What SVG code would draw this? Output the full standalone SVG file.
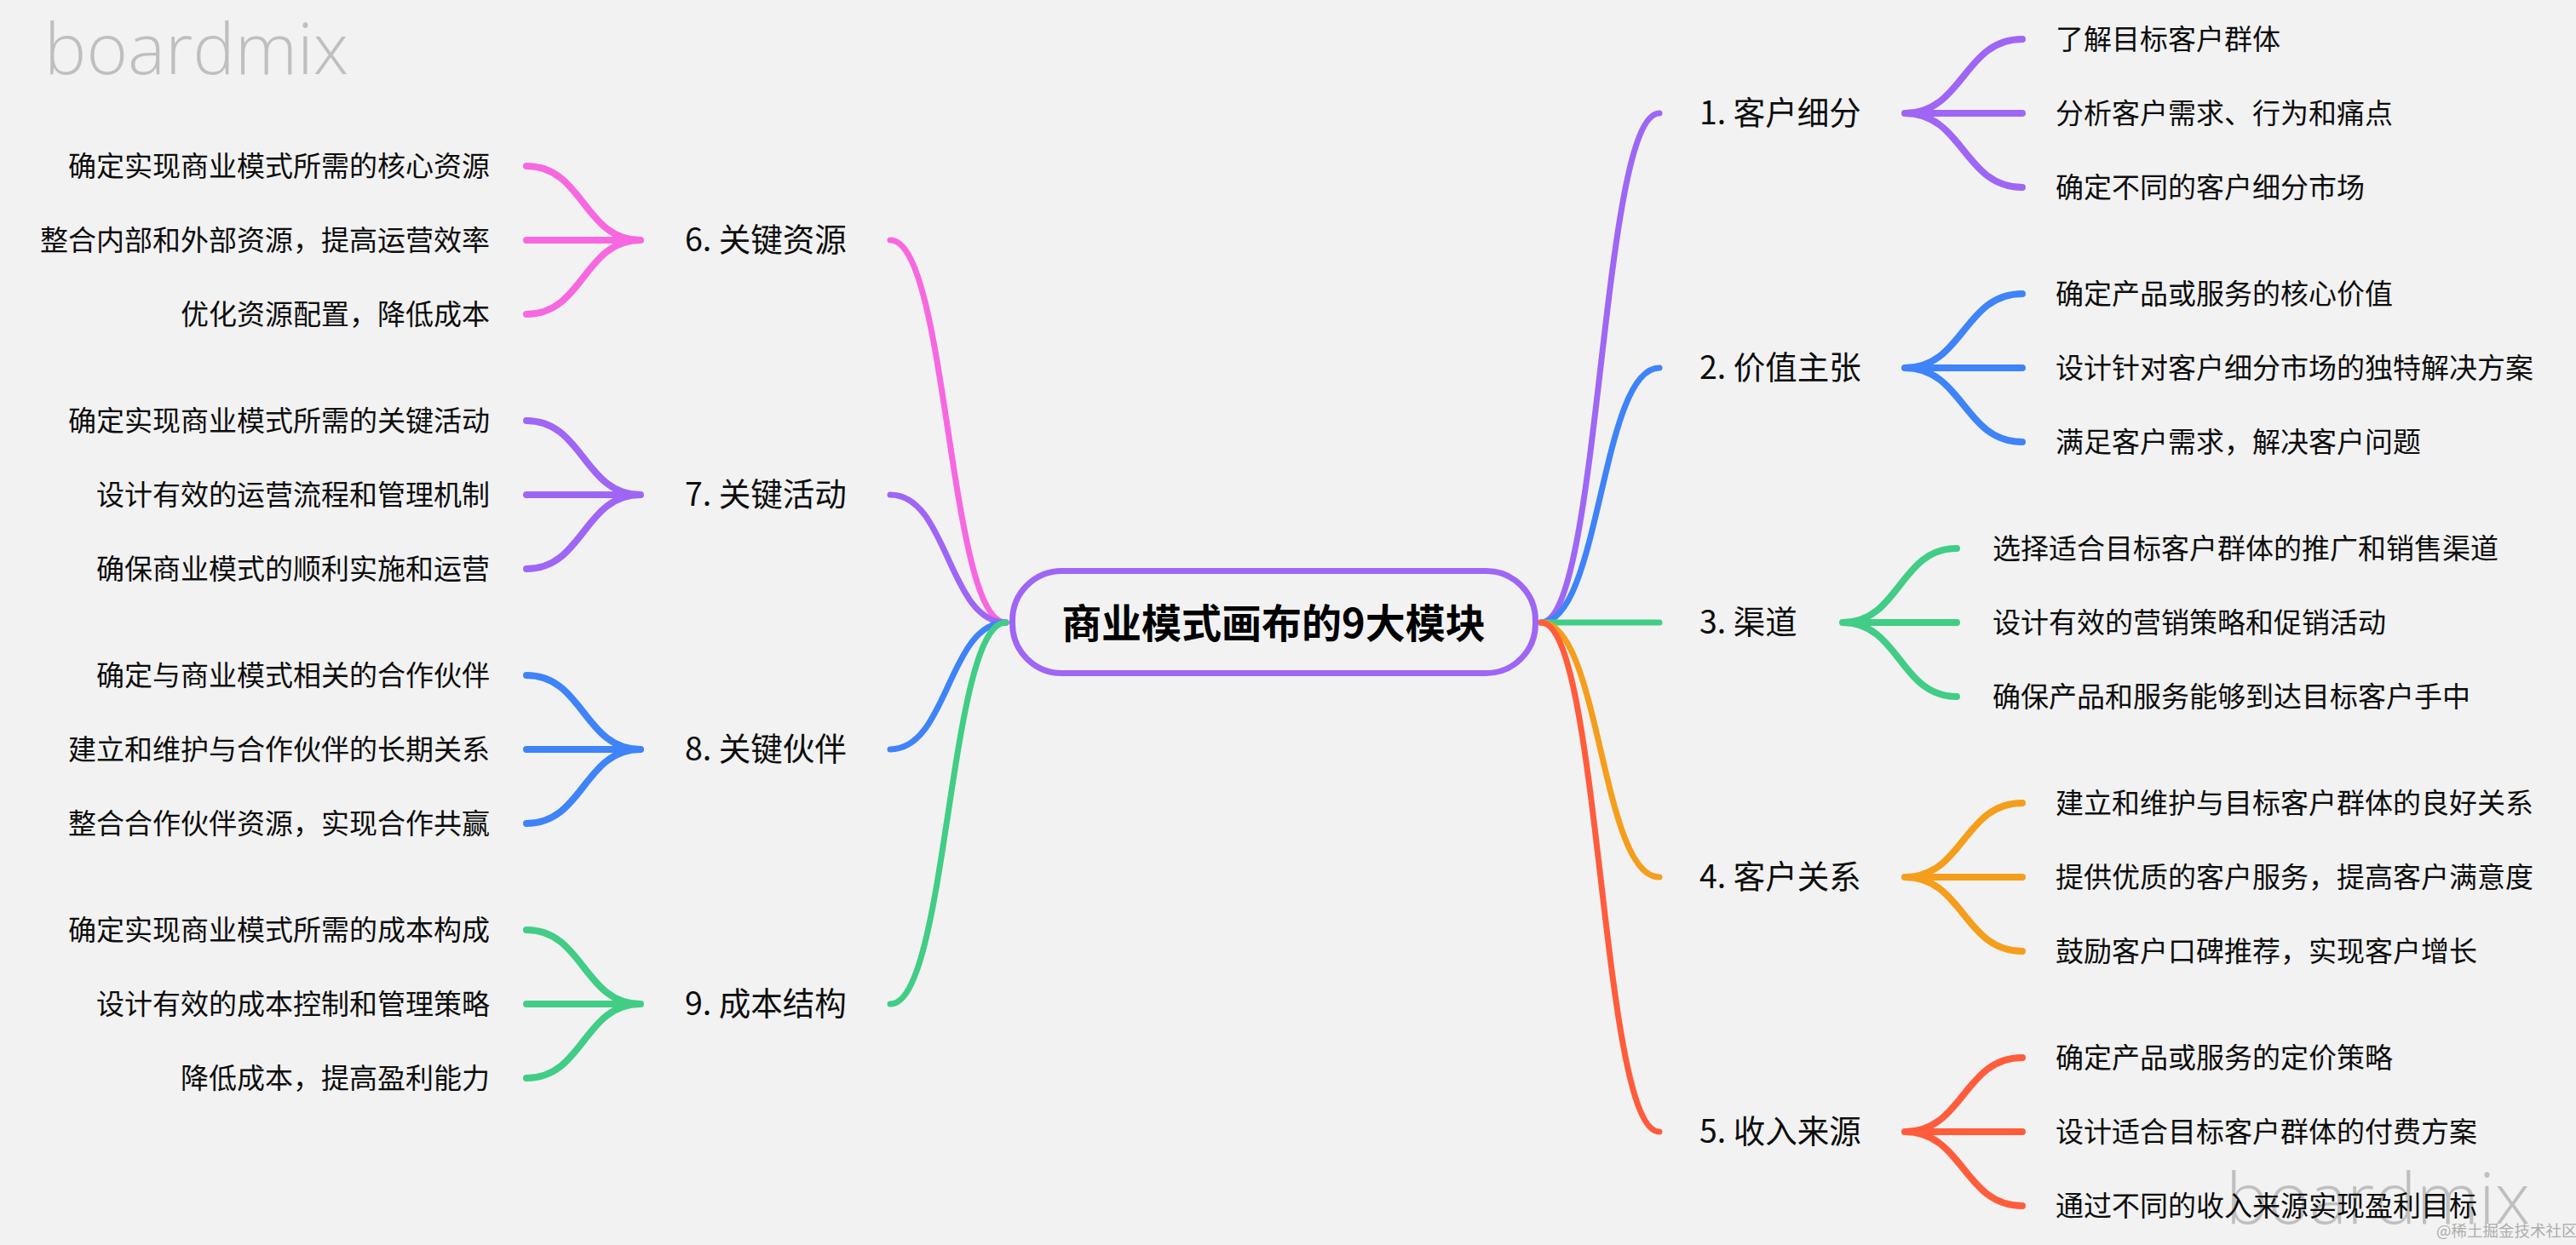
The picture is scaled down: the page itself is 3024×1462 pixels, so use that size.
<svg xmlns="http://www.w3.org/2000/svg" width="3024" height="1462" viewBox="0 0 3024 1462">
<style>
text{font-family:"Noto Sans CJK SC","Noto Sans",sans-serif;fill:#0d0d0d}
.leaf{font-size:33px}
.end{text-anchor:end}
.branch{font-size:37.5px}
.root{font-size:47px;font-weight:700;fill:#000;text-anchor:middle}
.wm{font-family:"Open Sans","Noto Sans",sans-serif;font-weight:300;font-size:83px;fill:#bfbfbf}
.credit{font-size:18.5px;fill:#adadad}
.c path{fill:none;stroke-linecap:round}
.l{stroke-width:8}
.b{stroke-width:7}
.purple{stroke:#9f66f5}.blue{stroke:#3f83f8}.green{stroke:#41cd85}.orange{stroke:#f59e1c}.red{stroke:#ff5c3c}.pink{stroke:#f768e0}
</style>
<rect width="3024" height="1462" fill="#f2f2f2"/>
<text class="wm" x="52" y="87">boardmix</text>
<text class="wm" x="2613" y="1437">boardmix</text>
<g id="connectors" class="c">
<path class="b purple" d="M1809 731C1879 731 1879 133 1948 133"/>
<path class="b blue" d="M1809 731C1879 731 1879 432 1948 432"/>
<path class="b green" d="M1809 731H1948"/>
<path class="b orange" d="M1809 731C1879 731 1879 1030 1948 1030"/>
<path class="b red" d="M1809 731C1879 731 1879 1329 1948 1329"/>
<path class="b pink" d="M1181 731C1113 731 1113 282 1045 282"/>
<path class="b purple" d="M1181 731C1113 731 1113 581 1045 581"/>
<path class="b blue" d="M1181 731C1113 731 1113 880 1045 880"/>
<path class="b green" d="M1181 731C1113 731 1113 1179 1045 1179"/>
<path class="l purple" d="M2236 133C2305 133 2305 46 2374 46M2236 133H2374M2236 133C2305 133 2305 220 2374 220"/>
<path class="l blue" d="M2236 432C2305 432 2305 345 2374 345M2236 432H2374M2236 432C2305 432 2305 519 2374 519"/>
<path class="l green" d="M2163 731C2230 731 2230 644 2297 644M2163 731H2297M2163 731C2230 731 2230 818 2297 818"/>
<path class="l orange" d="M2236 1030C2305 1030 2305 943 2374 943M2236 1030H2374M2236 1030C2305 1030 2305 1117 2374 1117"/>
<path class="l red" d="M2236 1329C2305 1329 2305 1242 2374 1242M2236 1329H2374M2236 1329C2305 1329 2305 1416 2374 1416"/>
<path class="l pink" d="M752 282C685 282 685 195 618 195M752 282H618M752 282C685 282 685 369 618 369"/>
<path class="l purple" d="M752 581C685 581 685 494 618 494M752 581H618M752 581C685 581 685 668 618 668"/>
<path class="l blue" d="M752 880C685 880 685 793 618 793M752 880H618M752 880C685 880 685 967 618 967"/>
<path class="l green" d="M752 1179C685 1179 685 1092 618 1092M752 1179H618M752 1179C685 1179 685 1266 618 1266"/>
</g>
<g id="root"><rect x="1188.5" y="670.5" width="614" height="120" rx="58" fill="#f2f2f2" stroke="#9f66f5" stroke-width="7"/><text class="root" x="1495" y="749">商业模式画布的9大模块</text></g>
<g id="n1"><text class="branch" x="1995" y="146">1. 客户细分</text><text class="leaf" x="2413" y="58">了解目标客户群体</text><text class="leaf" x="2413" y="145">分析客户需求、行为和痛点</text><text class="leaf" x="2413" y="232">确定不同的客户细分市场</text></g>
<g id="n2"><text class="branch" x="1995" y="445">2. 价值主张</text><text class="leaf" x="2413" y="357">确定产品或服务的核心价值</text><text class="leaf" x="2413" y="444">设计针对客户细分市场的独特解决方案</text><text class="leaf" x="2413" y="531">满足客户需求，解决客户问题</text></g>
<g id="n3"><text class="branch" x="1995" y="744">3. 渠道</text><text class="leaf" x="2339" y="656">选择适合目标客户群体的推广和销售渠道</text><text class="leaf" x="2339" y="743">设计有效的营销策略和促销活动</text><text class="leaf" x="2339" y="830">确保产品和服务能够到达目标客户手中</text></g>
<g id="n4"><text class="branch" x="1995" y="1043">4. 客户关系</text><text class="leaf" x="2413" y="955">建立和维护与目标客户群体的良好关系</text><text class="leaf" x="2413" y="1042">提供优质的客户服务，提高客户满意度</text><text class="leaf" x="2413" y="1129">鼓励客户口碑推荐，实现客户增长</text></g>
<g id="n5"><text class="branch" x="1995" y="1342">5. 收入来源</text><text class="leaf" x="2413" y="1254">确定产品或服务的定价策略</text><text class="leaf" x="2413" y="1341">设计适合目标客户群体的付费方案</text><text class="leaf" x="2413" y="1428">通过不同的收入来源实现盈利目标</text></g>
<g id="n6"><text class="branch" x="804" y="295">6. 关键资源</text><text class="leaf end" x="575" y="207">确定实现商业模式所需的核心资源</text><text class="leaf end" x="575" y="294">整合内部和外部资源，提高运营效率</text><text class="leaf end" x="575" y="381">优化资源配置，降低成本</text></g>
<g id="n7"><text class="branch" x="804" y="594">7. 关键活动</text><text class="leaf end" x="575" y="506">确定实现商业模式所需的关键活动</text><text class="leaf end" x="575" y="593">设计有效的运营流程和管理机制</text><text class="leaf end" x="575" y="680">确保商业模式的顺利实施和运营</text></g>
<g id="n8"><text class="branch" x="804" y="893">8. 关键伙伴</text><text class="leaf end" x="575" y="805">确定与商业模式相关的合作伙伴</text><text class="leaf end" x="575" y="892">建立和维护与合作伙伴的长期关系</text><text class="leaf end" x="575" y="979">整合合作伙伴资源，实现合作共赢</text></g>
<g id="n9"><text class="branch" x="804" y="1192">9. 成本结构</text><text class="leaf end" x="575" y="1104">确定实现商业模式所需的成本构成</text><text class="leaf end" x="575" y="1191">设计有效的成本控制和管理策略</text><text class="leaf end" x="575" y="1278">降低成本，提高盈利能力</text></g>
<text class="credit" x="2860" y="1452">@稀土掘金技术社区</text>
</svg>
